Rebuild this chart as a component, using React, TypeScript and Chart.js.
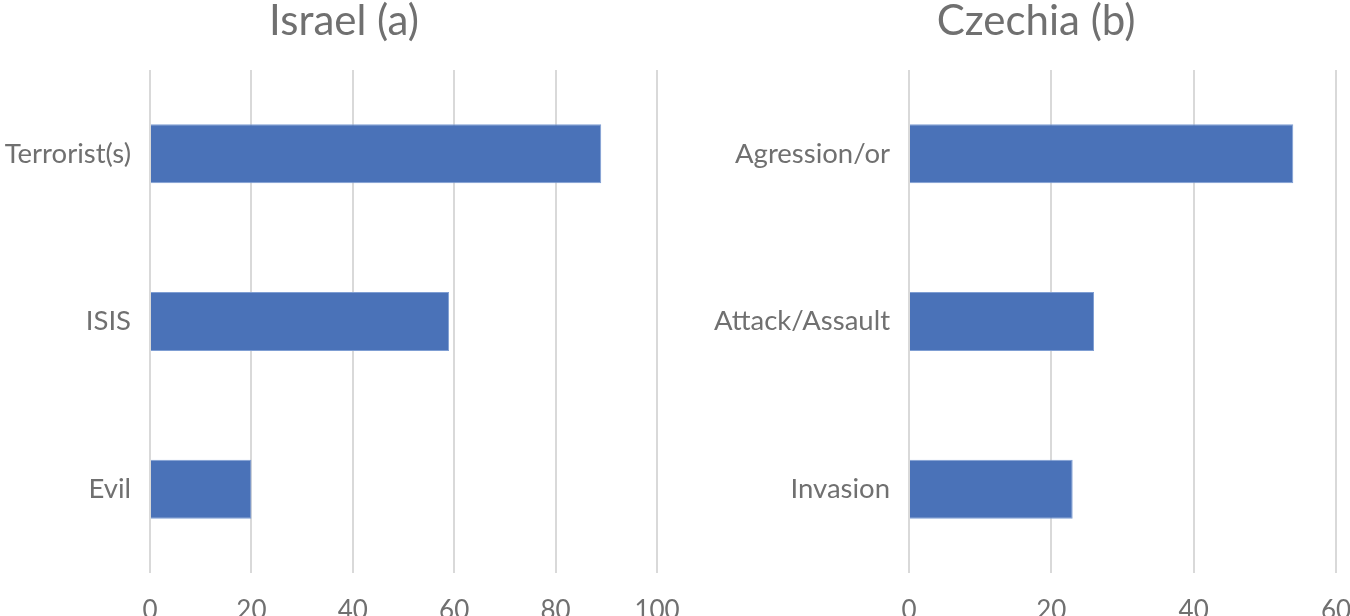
import React, { useEffect, useRef } from "react";
import { Chart, registerables } from "chart.js";

Chart.register(...registerables);

const israelTitle = "Israel (a)";
const israelCategories = ["Terrorist(s)", "ISIS", "Evil"];
const israelValues = [89, 59, 20];
const israelMax = 100;

const czechiaTitle = "Czechia (b)";
const czechiaCategories = ["Agression/or", "Attack/Assault", "Invasion"];
const czechiaValues = [54, 26, 23];
const czechiaMax = 60;

const tickStep = 20;

const FONT = "Lato, 'Noto Sans', sans-serif";
const TEXT = "#707070";
const BAR = "#4a72b8";
const GRID = "#d9d9d9";

type PanelProps = {
  title: string;
  categories: string[];
  values: number[];
  max: number;
  left: number;
  yAxisWidth: number;
  padRight: number;
};

const W = 688;
const H = 616;

function Panel({ title, categories, values, max, left, yAxisWidth, padRight }: PanelProps) {
  const ref = useRef<HTMLCanvasElement | null>(null);
  useEffect(() => {
    if (!ref.current) return;
    const chart = new Chart(ref.current, {
      type: "bar",
      data: {
        labels: categories,
        datasets: [
          {
            data: values,
            backgroundColor: BAR,
            borderColor: "#7f9ed3",
            borderWidth: 1,
            categoryPercentage: 1,
            barPercentage: 0.352,
          },
        ],
      },
      options: {
        indexAxis: "y",
        responsive: false,
        animation: false,
        devicePixelRatio: 1,
        layout: { padding: 0 },
        plugins: {
          legend: { display: false },
          tooltip: { enabled: false },
          title: {
            display: true,
            text: title,
            color: TEXT,
            font: { family: FONT, size: 42, weight: "normal", lineHeight: 1 },
            padding: { top: 0, bottom: 28 },
          },
        },
        scales: {
          x: {
            min: 0,
            max: max,
            ticks: {
              stepSize: tickStep,
              color: TEXT,
              font: { family: FONT, size: 26 },
              padding: 22,
            },
            grid: { color: GRID, lineWidth: 2, drawTicks: false },
            border: { display: false },
            afterFit: (scale: any) => {
              scale.height = 43;
              scale.paddingLeft = 0;
              scale.paddingRight = padRight;
            },
          },
          y: {
            ticks: {
              color: TEXT,
              font: { family: FONT, size: 27.5 },
              padding: 19,
            },
            grid: { display: false, drawTicks: false },
            border: { display: false },
            afterFit: (scale: any) => {
              scale.width = yAxisWidth;
              scale.paddingTop = 0;
              scale.paddingBottom = 0;
            },
          },
        },
      },
    });
    return () => chart.destroy();
  }, []);
  return (
    <canvas
      ref={ref}
      width={W}
      height={H}
      style={{ position: "absolute", left, top: 0, width: W, height: H, display: "block" }}
    />
  );
}

export default function App() {
  return (
    <div
      style={{
        position: "fixed",
        left: 0,
        top: 0,
        width: 1350,
        height: 616,
        overflow: "hidden",
        background: "#ffffff",
      }}
    >
      <Panel
        title={israelTitle}
        categories={israelCategories}
        values={israelValues}
        max={israelMax}
        left={0}
        yAxisWidth={150}
        padRight={31}
      />
      <Panel
        title={czechiaTitle}
        categories={czechiaCategories}
        values={czechiaValues}
        max={czechiaMax}
        left={692}
        yAxisWidth={217}
        padRight={44}
      />
    </div>
  );
}
